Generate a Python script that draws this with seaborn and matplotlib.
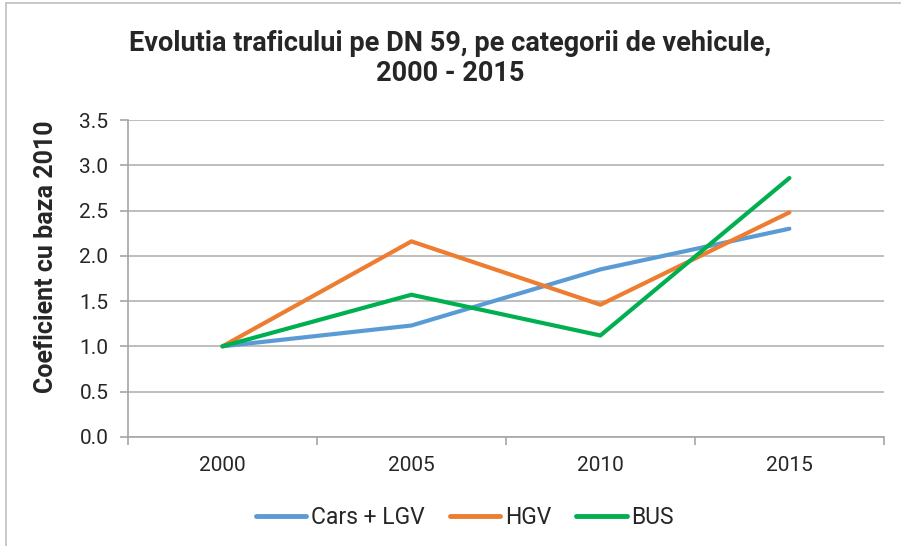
import matplotlib
matplotlib.use("Agg")
import matplotlib.pyplot as plt
import seaborn as sns
import pandas as pd
from matplotlib.lines import Line2D

years = ["2000", "2005", "2010", "2015"]
cars_lgv = [1.00, 1.23, 1.85, 2.30]
hgv = [1.00, 2.16, 1.46, 2.48]
bus = [1.00, 1.57, 1.12, 2.86]
series_names = ["Cars + LGV", "HGV", "BUS"]
colors = ["#5B9BD5", "#ED7D31", "#00B050"]
yticks = [0.0, 0.5, 1.0, 1.5, 2.0, 2.5, 3.0, 3.5]

df = pd.DataFrame({
    "year": years * 3,
    "value": cars_lgv + hgv + bus,
    "series": [series_names[0]] * 4 + [series_names[1]] * 4 + [series_names[2]] * 4,
})

sns.set_theme(style="white")
plt.rcParams["font.family"] = ["Roboto", "DejaVu Sans"]

fig = plt.figure(figsize=(9.01, 5.46), dpi=100)
ax = fig.add_axes([0.142, 0.2, 0.839, 0.58])

sns.lineplot(data=df, x="year", y="value", hue="series", palette=colors,
             hue_order=series_names, linewidth=3.0, ax=ax, legend=False,
             sort=False)

ax.set_xlim(-0.5, 3.5)
ax.set_ylim(0, 3.5)
ax.set_yticks(yticks)
ax.set_yticklabels([f"{v:.1f}" for v in yticks], fontsize=15)
ax.yaxis.grid(True, color="#B3B3B3", linewidth=1.2)
ax.set_axisbelow(True)

ax.set_xticks([-0.5, 0.5, 1.5, 2.5, 3.5])
ax.set_xticklabels([])
ax.set_xticks(range(len(years)), minor=True)
ax.set_xticklabels(years, minor=True, fontsize=15)
ax.tick_params(axis="x", which="major", length=6, color="#A6A6A6", width=1.2, direction="out", bottom=True)
ax.tick_params(axis="x", which="minor", length=0, pad=14)
ax.tick_params(axis="y", length=6, color="#A6A6A6", width=1.2, direction="out", left=True, pad=8)

for s in ["top", "right"]:
    ax.spines[s].set_visible(False)
for s in ["left", "bottom"]:
    ax.spines[s].set_color("#A6A6A6")
    ax.spines[s].set_linewidth(1.2)

ax.set_xlabel("")
ax.set_ylabel("Coeficient cu baza 2010", fontsize=18, fontweight="bold")
ax.yaxis.set_label_coords(-0.092, 0.569)

fig.suptitle("Evolutia traficului pe DN 59, pe categorii de vehicule,\n2000 - 2015",
             fontsize=19.5, fontweight="bold", y=0.945, x=0.5, linespacing=1.12)

handles = [Line2D([0], [0], color=c, lw=3.5, solid_capstyle="round") for c in colors]
fig.legend(handles, series_names, loc="center", bbox_to_anchor=(0.516, 0.052), ncol=3,
           frameon=False, fontsize=16.5, handlelength=2.2, handletextpad=0.2, columnspacing=1.1)

# chart frame (left/top)
fig.add_artist(Line2D([0.007, 0.007], [0, 0.995], transform=fig.transFigure, color="#BFBFBF", lw=1.2))
fig.add_artist(Line2D([0.007, 1.0], [0.995, 0.995], transform=fig.transFigure, color="#BFBFBF", lw=1.2))

fig.savefig("out.png", dpi=100)
